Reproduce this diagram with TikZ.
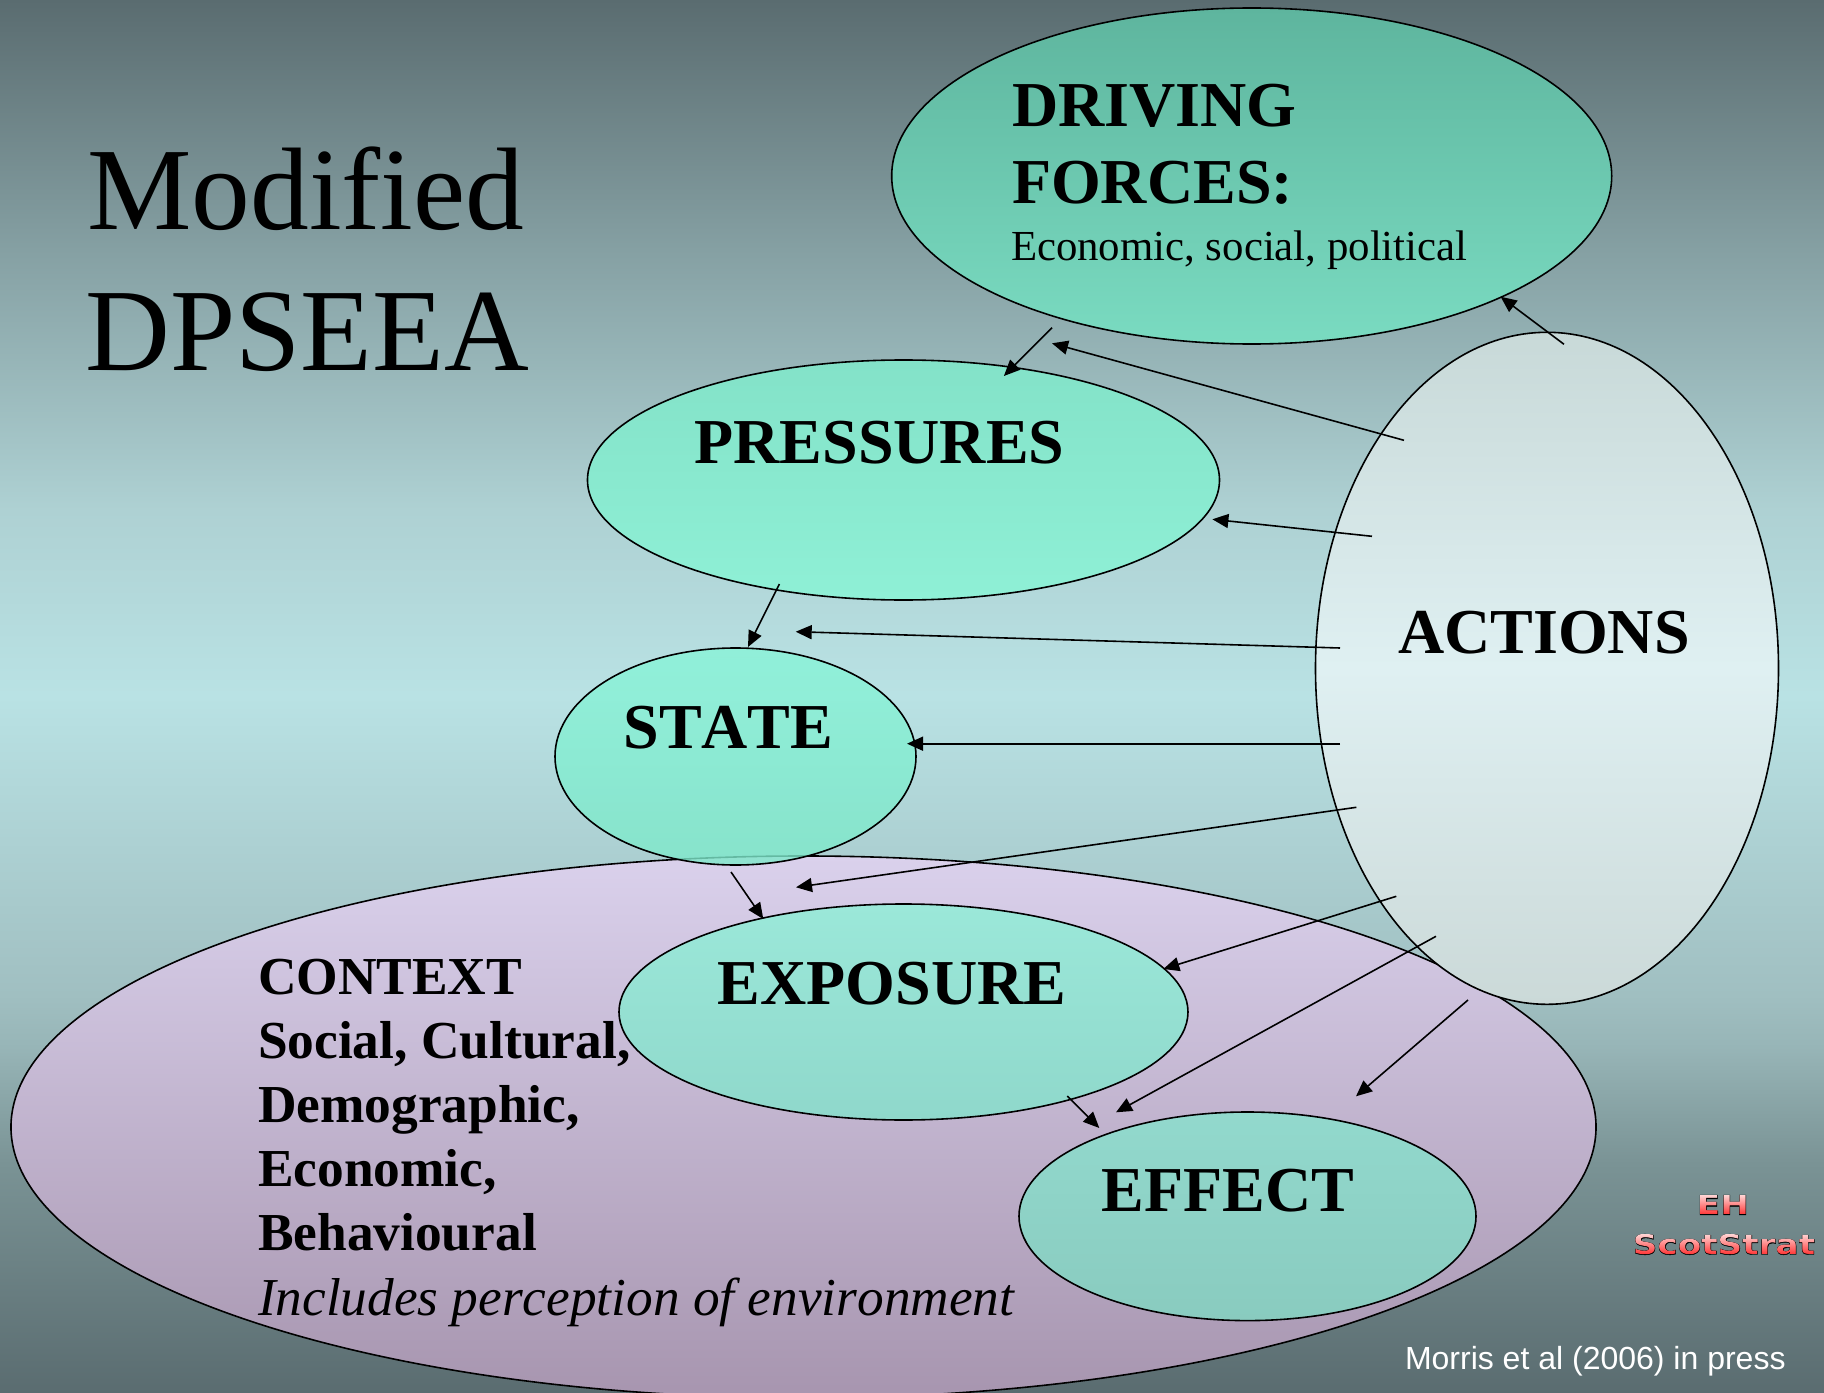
\documentclass[tikz,border=0pt]{standalone}
\usepackage{fontspec}
\setmainfont{Liberation Serif}[Kerning=Off]
\setsansfont{Liberation Sans}
\newfontfamily\wordfont{DejaVu Sans Bold}[FakeStretch=1.25]
\newfontfamily\wordedge{DejaVu Sans Bold}[FakeStretch=1.25,FakeBold=1.6]
\usetikzlibrary{shapes.geometric,arrows.meta,fadings}
\newcommand{\fsz}[1]{\fontsize{#1bp}{#1bp}\selectfont}
\definecolor{bgedge}{HTML}{5A6C70}
\definecolor{bga}{HTML}{86A1A4}
\definecolor{bgb}{HTML}{AED1D3}
\definecolor{bgmid}{HTML}{B9E2E4}
\definecolor{bgc}{HTML}{A0BFC1}
\definecolor{bgd}{HTML}{97B5B7}
\definecolor{bge}{HTML}{7A9395}
\pgfdeclareverticalshading{bgshade}{100bp}{
  color(0bp)=(bgedge); color(25bp)=(bgedge); color(33.25bp)=(bge); color(37.42bp)=(bgd);
  color(39.29bp)=(bgc); color(50.02bp)=(bgmid); color(56.69bp)=(bgb); color(65.85bp)=(bga);
  color(75bp)=(bgedge); color(100bp)=(bgedge)}
\definecolor{ctxtop}{HTML}{DAD1EC}
\definecolor{ctxbot}{HTML}{A795AF}
\definecolor{drvtop}{HTML}{5EB59E}
\definecolor{drvbot}{HTML}{7ADBC1}
\definecolor{pretop}{HTML}{83E2C8}
\definecolor{prebot}{HTML}{8FF0D6}
\definecolor{statop}{HTML}{88F4D8}
\definecolor{stabot}{HTML}{7EE8CA}
\definecolor{exptop}{HTML}{9BE8D9}
\definecolor{expbot}{HTML}{8FD8CB}
\definecolor{efftop}{HTML}{92D9CD}
\definecolor{effbot}{HTML}{89CBBF}
\definecolor{acttop}{HTML}{C8D9D8}
\definecolor{actmid}{HTML}{DFF0F2}
\definecolor{actbot}{HTML}{CBD9D8}
\definecolor{wordtop}{HTML}{FFD4D4}
\definecolor{wordbot}{HTML}{FF2828}
\tikzset{
  oval/.style={ellipse,draw=black,line width=.8pt,inner sep=0pt,outer sep=0pt},
  conn/.style={line width=.8pt,-{Triangle[length=8bp,width=7bp]}},
  lbl/.style={anchor=base west,inner sep=0pt,outer sep=0pt,text=black},
  head/.style={lbl,font=\fsz{32}\bfseries},
  ctx/.style={lbl,font=\fsz{26.7}\bfseries},
}
\begin{tikzfadingfrompicture}[name=ehfade]
  \node[text=transparent!0,inner sep=0pt,font=\fsz{13.7}\wordfont] {EH};
\end{tikzfadingfrompicture}
\begin{tikzfadingfrompicture}[name=ssfade]
  \node[text=transparent!0,inner sep=0pt,font=\fsz{13.7}\wordfont] {ScotStrat};
\end{tikzfadingfrompicture}
\begin{document}
\begin{tikzpicture}[x=.5bp,y=-.5bp]
\useasboundingbox (0,0) rectangle (1824,1393);
\shade[shading=bgshade] (0,0) rectangle (1824,1393);

\node[oval,minimum width=792.5bp,minimum height=271bp,top color=ctxtop,bottom color=ctxbot] (context) at (803.5,1127) {};
\node[oval,minimum width=360bp,minimum height=168bp,top color=drvtop,bottom color=drvbot] (driving) at (1251.7,176) {};
\node[oval,minimum width=316bp,minimum height=120bp,top color=pretop,bottom color=prebot] (pressures) at (903.5,480) {};
\node[oval,minimum width=180.5bp,minimum height=108.5bp,top color=statop,bottom color=stabot,fill opacity=.8] (state) at (735.5,756.5) {};
\node[oval,minimum width=231.5bp,minimum height=336bp,top color=acttop,bottom color=actbot,middle color=actmid] (actions) at (1547,668.3) {};
\node[oval,minimum width=284.5bp,minimum height=108bp,top color=exptop,bottom color=expbot] (exposure) at (903.5,1012) {};
\node[oval,minimum width=228.5bp,minimum height=104.3bp,top color=efftop,bottom color=effbot] (effect) at (1247.5,1216.3) {};

\coordinate (a1s) at (1564,344.3);   \coordinate (a1e) at (1500.6,296.7);
\coordinate (a2s) at (1052,327.7);   \coordinate (a2e) at (1003.9,376);
\coordinate (a3s) at (1404,440.3);   \coordinate (a3e) at (1052,343.3);
\coordinate (a4s) at (1372,536.3);   \coordinate (a4e) at (1212.4,519.3);
\coordinate (a5s) at (779.4,584);    \coordinate (a5e) at (748,647);
\coordinate (a6s) at (1340,648);     \coordinate (a6e) at (795.7,631.7);
\coordinate (a7s) at (1340,743.7);   \coordinate (a7e) at (907,743.7);
\coordinate (a8s) at (1356.4,807.3); \coordinate (a8e) at (796,887.3);
\coordinate (a9s) at (731,872);      \coordinate (a9e) at (763.3,919);
\coordinate (a10s) at (1396.3,896.3);\coordinate (a10e) at (1163.3,969);
\coordinate (a11s) at (1436,936.3);  \coordinate (a11e) at (1116,1112.3);
\coordinate (a12s) at (1067.3,1096); \coordinate (a12e) at (1099.3,1128);
\coordinate (a13s) at (1468,1000);   \coordinate (a13e) at (1356,1096.3);
\foreach \n in {1,...,13} \draw[conn] (a\n s) -- (a\n e);

\node[lbl,font=\fsz{58.7}] (t1) at (87.4,229.5) {Modified};
\node[lbl,font=\fsz{58.7}] (t2) at (85.5,370) {DPSEEA};
\node[head] (drv1) at (1012,127) {DRIVING};
\node[head] (drv2) at (1012,203) {FORCES:};
\node[lbl,font=\fsz{21.4}] (drv3) at (1011,261) {Economic, social, political};
\node[head] (pre) at (694.5,463) {PRESSURES};
\node[head] (sta) at (623.5,748) {STATE};
\node[head] (act) at (1398,653) {ACTIONS};
\node[head] (exp) at (717.7,1004) {EXPOSURE};
\node[head] (eff) at (1101.6,1211) {EFFECT};
\node[ctx] (c1) at (258,994) {CONTEXT};
\node[ctx] (c2) at (258,1058) {Social, Cultural,};
\node[ctx] (c3) at (258,1122) {Demographic,};
\node[ctx] (c4) at (258,1186) {Economic,};
\node[ctx] (c5) at (258,1250) {Behavioural};
\node[lbl,font=\fsz{26.65}\itshape] (c6) at (258,1315) {Includes perception of environment};
\node[lbl,font=\fsz{16}\sffamily,text=white] (cite) at (1405,1369) {Morris et al (2006) in press};

\node[inner sep=0pt,text=black,font=\fsz{13.7}\wordedge] (eho) at (1723,1205) {EH};
\node[inner sep=0pt,text=black,font=\fsz{13.7}\wordedge] (sso) at (1724,1244.5) {ScotStrat};
\fill[path fading=ehfade,fit fading=false,fading transform={shift={(eho.center)}},top color=wordtop,bottom color=wordbot] (1690,1195) rectangle (1756,1216);
\fill[path fading=ssfade,fit fading=false,fading transform={shift={(sso.center)}},top color=wordtop,bottom color=wordbot] (1628,1234) rectangle (1820,1256);
\end{tikzpicture}
\end{document}
